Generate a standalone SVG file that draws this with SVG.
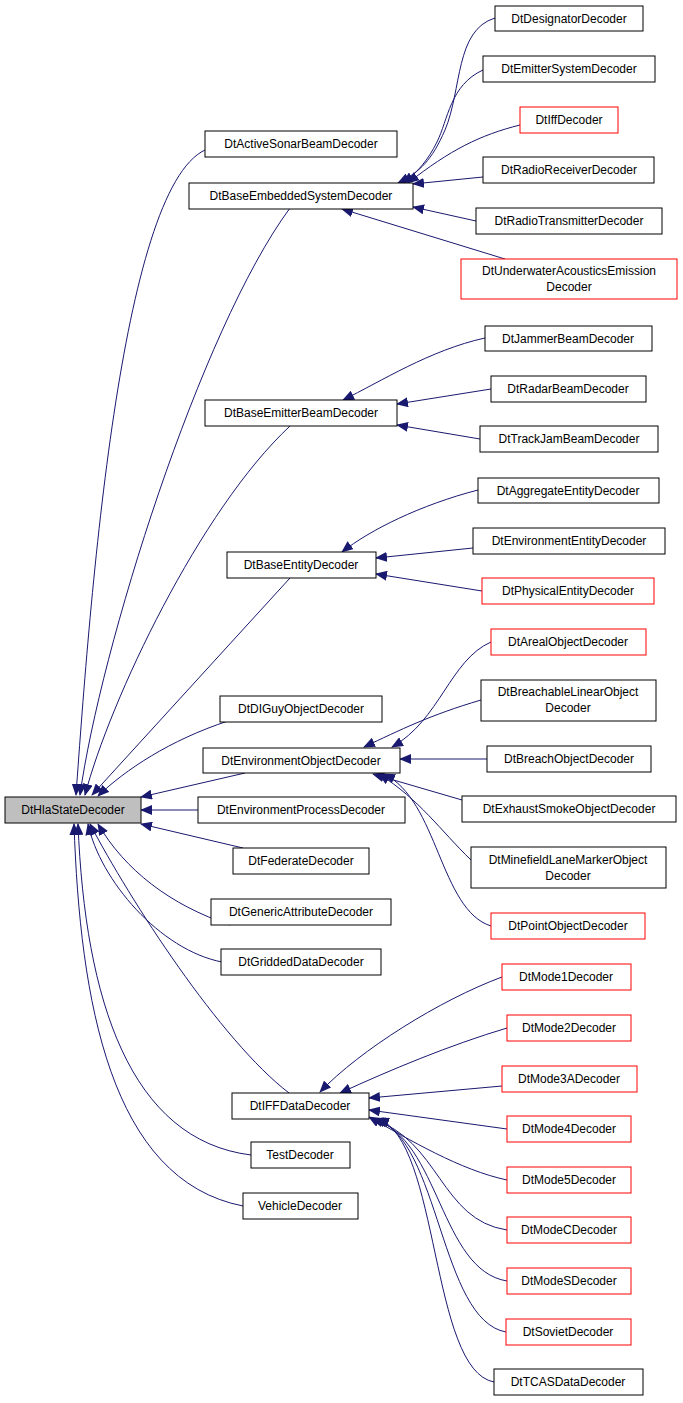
<svg xmlns="http://www.w3.org/2000/svg" width="683" height="1403" viewBox="0 0 683 1403">
<style>
.n rect{fill:#fff;stroke:#000;stroke-width:1}
.n.r rect{stroke:#ff0000}
.n.root rect{fill:#bfbfbf}
text{font-family:"Liberation Sans",Arial,sans-serif;font-size:12px;text-anchor:middle;fill:#000}
#edges path{fill:none;stroke:#191970;stroke-width:1;marker-end:url(#a)}
</style>
<defs><marker id="a" markerUnits="userSpaceOnUse" markerWidth="12" markerHeight="10" refX="11" refY="5" orient="auto"><path d="M0,0 L12,5 L0,10 Z" fill="#191970"/></marker></defs>
<g id="edges">
<path d="M205,150 C120,190 90,600 76,795"/>
<path d="M290,208 C200,330 100,650 80,795"/>
<path d="M290,426 C200,510 110,700 85,795"/>
<path d="M290,578 L92,795"/>
<path d="M228,721 C170,740 125,770 98,796"/>
<path d="M245,773 L141,797"/>
<path d="M198,810 L141,810"/>
<path d="M243,848 L141,824"/>
<path d="M230,925 C170,905 125,870 98,824"/>
<path d="M222,962 C160,950 100,880 88,824"/>
<path d="M289,1093 C220,1040 130,900 90,824"/>
<path d="M251,1155 C130,1140 85,1000 78,824"/>
<path d="M243,1206 C110,1180 80,1000 74,824"/>
<path d="M495,18 C455,30 462,90 445,130 C432,160 420,172 398,183"/>
<path d="M483,70 C450,85 448,120 437,142 C428,160 418,172 403,183"/>
<path d="M520,125 C480,135 450,150 408,183"/>
<path d="M483,177 L413,184"/>
<path d="M476,221 L413,207"/>
<path d="M505,259 L342,209"/>
<path d="M485,338 C430,350 380,382 343,400"/>
<path d="M491,389 L397,404"/>
<path d="M480,439 L397,425"/>
<path d="M478,490 C420,505 370,530 342,552"/>
<path d="M473,548 L376,558"/>
<path d="M482,591 L376,574"/>
<path d="M491,642 C450,660 440,720 392,747"/>
<path d="M481,700 C430,715 400,730 364,747"/>
<path d="M487,759 L400,759"/>
<path d="M462,800 L373,774"/>
<path d="M471,860 C440,830 420,800 379,774"/>
<path d="M491,926 C440,910 438,800 384,774"/>
<path d="M502,977 C440,1000 360,1050 320,1092"/>
<path d="M507,1028 C450,1045 390,1070 340,1093"/>
<path d="M502,1086 L369,1098"/>
<path d="M507,1129 L369,1110"/>
<path d="M507,1180 C460,1170 410,1140 369,1117"/>
<path d="M507,1230 C440,1220 440,1140 372,1119"/>
<path d="M507,1281 C440,1270 440,1140 374,1119"/>
<path d="M506,1332 C440,1320 440,1140 376,1119"/>
<path d="M494,1382 C430,1370 440,1140 378,1119"/>
</g>
<g id="DtHlaStateDecoder" class="n root"><rect x="5" y="797" width="136" height="26"/><text x="73" y="814">DtHlaStateDecoder</text></g>
<g id="DtActiveSonarBeamDecoder" class="n"><rect x="205" y="131" width="192" height="26"/><text x="301" y="148">DtActiveSonarBeamDecoder</text></g>
<g id="DtBaseEmbeddedSystemDecoder" class="n"><rect x="189" y="183" width="224" height="26"/><text x="301" y="200">DtBaseEmbeddedSystemDecoder</text></g>
<g id="DtBaseEmitterBeamDecoder" class="n"><rect x="205" y="400" width="192" height="26"/><text x="301" y="417">DtBaseEmitterBeamDecoder</text></g>
<g id="DtBaseEntityDecoder" class="n"><rect x="227" y="552" width="149" height="26"/><text x="301" y="569">DtBaseEntityDecoder</text></g>
<g id="DtDIGuyObjectDecoder" class="n"><rect x="220" y="696" width="162" height="26"/><text x="301" y="713">DtDIGuyObjectDecoder</text></g>
<g id="DtEnvironmentObjectDecoder" class="n"><rect x="203" y="748" width="197" height="25"/><text x="301" y="765">DtEnvironmentObjectDecoder</text></g>
<g id="DtEnvironmentProcessDecoder" class="n"><rect x="198" y="797" width="207" height="26"/><text x="301" y="814">DtEnvironmentProcessDecoder</text></g>
<g id="DtFederateDecoder" class="n"><rect x="233" y="848" width="136" height="26"/><text x="301" y="865">DtFederateDecoder</text></g>
<g id="DtGenericAttributeDecoder" class="n"><rect x="211" y="899" width="180" height="26"/><text x="301" y="916">DtGenericAttributeDecoder</text></g>
<g id="DtGriddedDataDecoder" class="n"><rect x="221" y="949" width="160" height="26"/><text x="301" y="966">DtGriddedDataDecoder</text></g>
<g id="DtIFFDataDecoder" class="n"><rect x="232" y="1093" width="137" height="26"/><text x="300" y="1110">DtIFFDataDecoder</text></g>
<g id="TestDecoder" class="n"><rect x="251" y="1142" width="99" height="26"/><text x="300" y="1159">TestDecoder</text></g>
<g id="VehicleDecoder" class="n"><rect x="243" y="1193" width="115" height="26"/><text x="300" y="1210">VehicleDecoder</text></g>
<g id="DtDesignatorDecoder" class="n"><rect x="495" y="6" width="148" height="25"/><text x="569" y="23">DtDesignatorDecoder</text></g>
<g id="DtEmitterSystemDecoder" class="n"><rect x="483" y="56" width="172" height="26"/><text x="569" y="73">DtEmitterSystemDecoder</text></g>
<g id="DtIffDecoder" class="n r"><rect x="520" y="107" width="98" height="26"/><text x="569" y="124">DtIffDecoder</text></g>
<g id="DtRadioReceiverDecoder" class="n"><rect x="483" y="157" width="171" height="26"/><text x="569" y="174">DtRadioReceiverDecoder</text></g>
<g id="DtRadioTransmitterDecoder" class="n"><rect x="476" y="208" width="186" height="26"/><text x="569" y="225">DtRadioTransmitterDecoder</text></g>
<g id="DtUnderwaterAcousticsEmissionDecoder" class="n r"><rect x="461" y="259" width="216" height="40"/><text x="569" y="275">DtUnderwaterAcousticsEmission</text><text x="569" y="291">Decoder</text></g>
<g id="DtJammerBeamDecoder" class="n"><rect x="485" y="326" width="167" height="25"/><text x="568" y="343">DtJammerBeamDecoder</text></g>
<g id="DtRadarBeamDecoder" class="n"><rect x="491" y="376" width="155" height="26"/><text x="568" y="393">DtRadarBeamDecoder</text></g>
<g id="DtTrackJamBeamDecoder" class="n"><rect x="480" y="426" width="178" height="26"/><text x="569" y="443">DtTrackJamBeamDecoder</text></g>
<g id="DtAggregateEntityDecoder" class="n"><rect x="478" y="478" width="181" height="25"/><text x="568" y="495">DtAggregateEntityDecoder</text></g>
<g id="DtEnvironmentEntityDecoder" class="n"><rect x="473" y="528" width="192" height="26"/><text x="569" y="545">DtEnvironmentEntityDecoder</text></g>
<g id="DtPhysicalEntityDecoder" class="n r"><rect x="482" y="578" width="172" height="26"/><text x="568" y="595">DtPhysicalEntityDecoder</text></g>
<g id="DtArealObjectDecoder" class="n r"><rect x="491" y="629" width="155" height="26"/><text x="568" y="646">DtArealObjectDecoder</text></g>
<g id="DtBreachableLinearObjectDecoder" class="n"><rect x="481" y="680" width="175" height="41"/><text x="568" y="696">DtBreachableLinearObject</text><text x="568" y="712">Decoder</text></g>
<g id="DtBreachObjectDecoder" class="n"><rect x="487" y="746" width="164" height="26"/><text x="569" y="763">DtBreachObjectDecoder</text></g>
<g id="DtExhaustSmokeObjectDecoder" class="n"><rect x="462" y="796" width="214" height="26"/><text x="569" y="813">DtExhaustSmokeObjectDecoder</text></g>
<g id="DtMinefieldLaneMarkerObjectDecoder" class="n"><rect x="471" y="847" width="195" height="41"/><text x="568" y="864">DtMinefieldLaneMarkerObject</text><text x="568" y="880">Decoder</text></g>
<g id="DtPointObjectDecoder" class="n r"><rect x="491" y="913" width="154" height="26"/><text x="568" y="930">DtPointObjectDecoder</text></g>
<g id="DtMode1Decoder" class="n r"><rect x="502" y="964" width="129" height="26"/><text x="566" y="981">DtMode1Decoder</text></g>
<g id="DtMode2Decoder" class="n r"><rect x="507" y="1015" width="124" height="26"/><text x="569" y="1032">DtMode2Decoder</text></g>
<g id="DtMode3ADecoder" class="n r"><rect x="502" y="1066" width="135" height="26"/><text x="569" y="1083">DtMode3ADecoder</text></g>
<g id="DtMode4Decoder" class="n r"><rect x="507" y="1116" width="124" height="26"/><text x="569" y="1133">DtMode4Decoder</text></g>
<g id="DtMode5Decoder" class="n r"><rect x="507" y="1167" width="124" height="26"/><text x="569" y="1184">DtMode5Decoder</text></g>
<g id="DtModeCDecoder" class="n r"><rect x="507" y="1217" width="124" height="26"/><text x="569" y="1234">DtModeCDecoder</text></g>
<g id="DtModeSDecoder" class="n r"><rect x="507" y="1268" width="124" height="26"/><text x="569" y="1285">DtModeSDecoder</text></g>
<g id="DtSovietDecoder" class="n r"><rect x="506" y="1319" width="125" height="26"/><text x="568" y="1336">DtSovietDecoder</text></g>
<g id="DtTCASDataDecoder" class="n"><rect x="494" y="1369" width="149" height="26"/><text x="568" y="1386">DtTCASDataDecoder</text></g>
</svg>
